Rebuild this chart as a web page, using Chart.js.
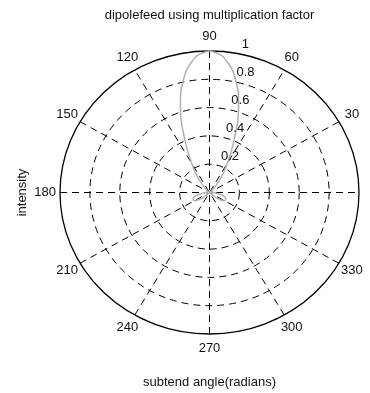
<!DOCTYPE html>
<html>
<head>
<meta charset="utf-8">
<script src="https://cdn.jsdelivr.net/npm/chart.js@4"></script>
<style>
  html, body { margin: 0; padding: 0; background: #fff; }
</style>
</head>
<body>
<canvas id="polarChart" width="370" height="393"></canvas>
<script>
// angle (degrees) and normalised intensity
const thetaDeg = [
    0, 5, 10, 15, 20, 25, 30, 35, 40, 45, 50, 55, 60, 65, 70, 75, 80, 85,
    90, 95, 100, 105, 110, 115, 120, 125, 130, 135, 140, 145, 150, 155, 160, 165, 170, 175,
    180, 185, 190, 195, 200, 205, 210, 215, 220, 225, 230, 240, 250, 260,
    270, 280, 290, 300, 310, 315, 320, 325, 330, 335, 340, 345, 350, 355, 360
];
const intensity = [
    0.02, 0.0, 0.0, 0.0, 0.0, 0.0, 0.0, 0.0, 0.01, 0.03, 0.08, 0.15, 0.24, 0.37, 0.56, 0.74, 0.88, 0.97,
    1.0, 0.97, 0.88, 0.74, 0.56, 0.37, 0.24, 0.15, 0.08, 0.03, 0.01, 0.0, 0.0, 0.0, 0.0, 0.0, 0.0, 0.0,
    0.02, 0.04, 0.07, 0.10, 0.115, 0.12, 0.115, 0.09, 0.05, 0.01, 0.0, 0.0, 0.0, 0.0,
    0.0, 0.0, 0.0, 0.0, 0.0, 0.01, 0.05, 0.09, 0.115, 0.12, 0.115, 0.10, 0.07, 0.04, 0.02
];

const radialTicks = [0.2, 0.4, 0.6, 0.8, 1];
const radialLabels = ['0.2', '0.4', '0.6', '0.8', '1'];
const angleTicks = [0, 30, 60, 90, 120, 150, 180, 210, 240, 270, 300, 330];

const titleText = 'dipolefeed using multiplication factor';
const xLabelText = 'subtend angle(radians)';
const yLabelText = 'intensity';

const rad = d => d * Math.PI / 180;

// polar -> cartesian for the linear scales
const curvePoints = thetaDeg.map((t, i) => ({
    x: intensity[i] * Math.cos(rad(t)),
    y: intensity[i] * Math.sin(rad(t))
}));

const FONT = '13px "Liberation Sans", Arial, sans-serif';
const DASH = [7, 5];

const polarFrame = {
    id: 'polarFrame',
    beforeDatasetsDraw(chart) {
        const ctx = chart.ctx;
        const xs = chart.scales.x, ys = chart.scales.y;
        const cx = xs.getPixelForValue(0), cy = ys.getPixelForValue(0);
        ctx.save();
        ctx.strokeStyle = '#000';
        ctx.lineWidth = 1;
        // dashed spokes
        ctx.setLineDash(DASH);
        for (let t of angleTicks.filter(a => a < 180)) {
            const dx = Math.cos(rad(t)), dy = Math.sin(rad(t));
            ctx.beginPath();
            ctx.moveTo(xs.getPixelForValue(-dx), ys.getPixelForValue(-dy));
            ctx.lineTo(xs.getPixelForValue(dx), ys.getPixelForValue(dy));
            ctx.stroke();
        }
        // rings
        radialTicks.forEach((r, i) => {
            const rx = xs.getPixelForValue(r) - cx;
            const ry = cy - ys.getPixelForValue(r);
            const last = i === radialTicks.length - 1;
            ctx.setLineDash(last ? [] : DASH);
            ctx.lineWidth = last ? 1.3 : 1;
            ctx.beginPath();
            ctx.ellipse(cx, cy, rx, ry, 0, 0, Math.PI * 2);
            ctx.stroke();
        });
        ctx.restore();
    },
    afterDraw(chart) {
        const ctx = chart.ctx;
        const xs = chart.scales.x, ys = chart.scales.y;
        const area = chart.chartArea;
        ctx.save();
        ctx.fillStyle = '#111';
        ctx.font = FONT;
        ctx.textAlign = 'center';
        ctx.textBaseline = 'middle';
        // angle labels
        for (let t of angleTicks) {
            const px = xs.getPixelForValue(1.1 * Math.cos(rad(t)));
            const py = ys.getPixelForValue(1.1 * Math.sin(rad(t)));
            ctx.fillText(String(t), px, py);
        }
        // radial labels along 80 degrees
        ctx.textAlign = 'left';
        ctx.textBaseline = 'bottom';
        radialTicks.forEach((r, i) => {
            const px = xs.getPixelForValue(r * Math.cos(rad(80)));
            const py = ys.getPixelForValue(r * Math.sin(rad(80)));
            ctx.fillText('  ' + radialLabels[i], px - 1, py - 2);
        });
        // titles
        const midX = (area.left + area.right) / 2;
        ctx.textAlign = 'center';
        ctx.textBaseline = 'middle';
        ctx.fillText(titleText, midX, 15);
        ctx.fillText(xLabelText, midX, 382);
        ctx.translate(22, (area.top + area.bottom) / 2);
        ctx.rotate(-Math.PI / 2);
        ctx.fillText(yLabelText, 0, 0);
        ctx.restore();
    }
};

new Chart(document.getElementById('polarChart'), {
    type: 'scatter',
    data: {
        datasets: [{
            data: curvePoints,
            showLine: true,
            borderColor: '#b0b0b0',
            borderWidth: 1.5,
            pointRadius: 0,
            tension: 0.2,
            clip: false
        }]
    },
    options: {
        responsive: false,
        animation: false,
        layout: { padding: { left: 60, right: 11, top: 51, bottom: 59 } },
        scales: {
            x: { type: 'linear', min: -1, max: 1, display: false },
            y: { type: 'linear', min: -1, max: 1, display: false }
        },
        plugins: { legend: { display: false }, tooltip: { enabled: false } }
    },
    plugins: [polarFrame]
});
</script>
</body>
</html>
